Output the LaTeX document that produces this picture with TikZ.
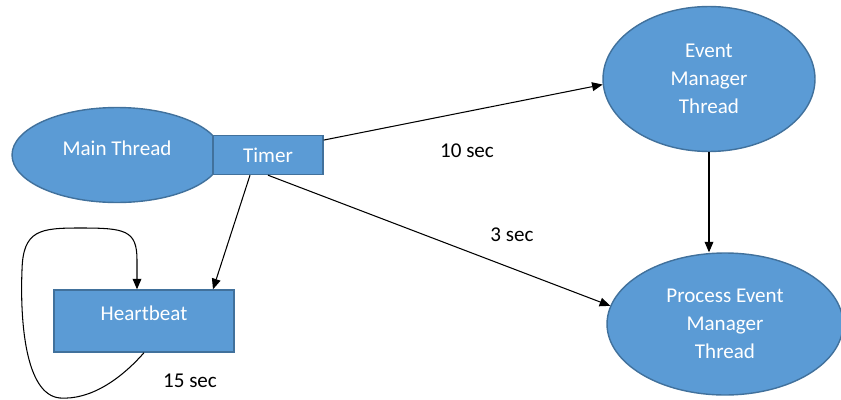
\documentclass[tikz,border=0pt]{standalone}
\usepackage{fontspec}
\setmainfont{Carlito}
\definecolor{BoxBlue}{RGB}{91, 155, 213}
\definecolor{EdgeBlue}{RGB}{65, 113, 156}
\usetikzlibrary{arrows.meta, positioning, shapes.geometric}

\begin{document}
\begin{tikzpicture}[x=0.02cm, y=-0.02cm,
  every node/.style={font=\fontsize{12}{16}\selectfont, align=center},
  blob/.style={ellipse, draw=EdgeBlue, fill=BoxBlue, text=white, line width=0.8pt, inner sep=0pt},
  box/.style={rectangle, draw=EdgeBlue, fill=BoxBlue, text=white, line width=0.8pt},
  link/.style={-{Triangle[length=6pt,width=5pt]}, line width=0.6pt}]
\useasboundingbox (0,0) rectangle (841,399);

% threads
\node[blob, minimum width=4.2cm, minimum height=1.9cm, text depth=8pt] (main) at (117,155) {Main Thread};
\node[box, minimum width=2.2cm, minimum height=0.78cm] (timer) at (268,155) {Timer};
\node[blob, minimum width=4.24cm, minimum height=2.9cm] (event) at (709,79) {Event\\Manager\\Thread};
\node[blob, minimum width=4.72cm, minimum height=2.84cm] (process) at (725,324) {Process Event\\Manager\\Thread};
\node[box, minimum width=3.6cm, minimum height=1.24cm, text depth=9pt] (hb) at (144,321) {Heartbeat};

% intervals
\node (t10) at (467,151) {10 sec};
\node (t3) at (512,235) {3 sec};
\node (t15) at (190,381) {15 sec};

\draw[link] (timer.15) -- (event.183);
\draw[link] (timer.south) -- (process.171);
\draw[link] ([xshift=-0.36cm]timer.south) -- ([xshift=1.38cm]hb.north);
\draw[link] (event.south) -- (event.south |- process.north);
\draw[link] (hb.south) .. controls (120,380) and (90,400) .. (60,398)
  .. controls (25,395) and (20,320) .. (22,270)
  .. controls (23,230) and (40,228) .. (80,228)
  .. controls (125,228) and (137,230) .. (137,260)
  -- ([xshift=-0.14cm]hb.north);
\end{tikzpicture}
\end{document}
